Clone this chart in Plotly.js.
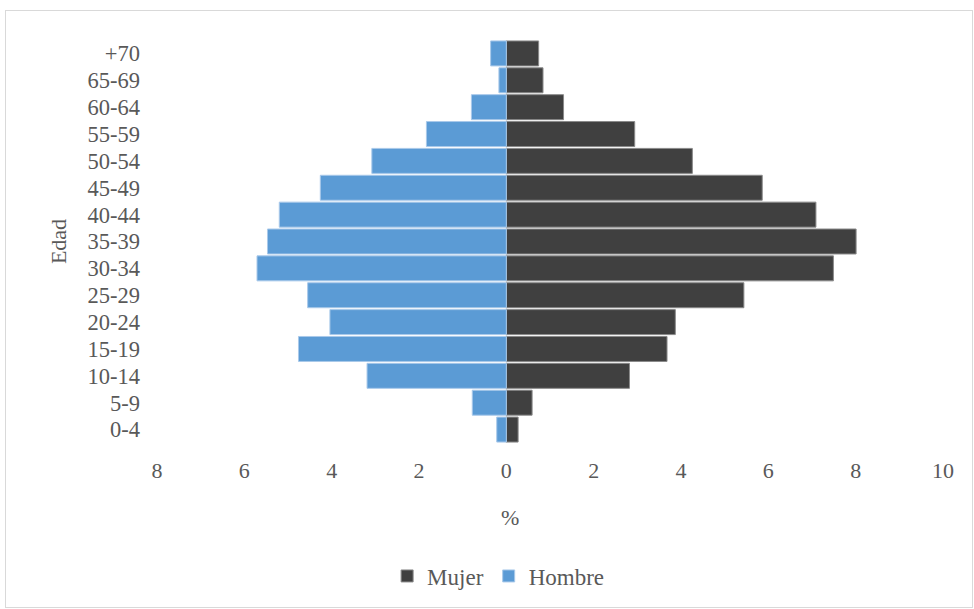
<!DOCTYPE html>
<html>
<head>
<meta charset="utf-8">
<script src="https://cdn.plot.ly/plotly-3.0.1.min.js"></script>
<style>
html,body{margin:0;padding:0;background:#fff;}
#frame{position:absolute;left:5px;top:10px;width:966px;height:596px;border:1px solid #d9d9d9;pointer-events:none;}
#chart{position:absolute;left:0;top:0;width:974px;height:609px;}
</style>
</head>
<body>
<div id="chart"></div>
<div id="frame"></div>
<script>
const ageGroups = ["0-4","5-9","10-14","15-19","20-24","25-29","30-34","35-39","40-44","45-49","50-54","55-59","60-64","65-69","+70"];
const mujer  = [0.27,0.59,2.82,3.68,3.87,5.44,7.49,8.01,7.09,5.86,4.26,2.94,1.31,0.84,0.74];
const hombre = [0.22,0.78,3.19,4.76,4.04,4.55,5.71,5.47,5.20,4.26,3.08,1.83,0.80,0.17,0.36];
const xTickVals = [-8,-6,-4,-2,0,2,4,6,8,10];
const xTickText = ["8","6","4","2","0","2","4","6","8","10"];

const fontFam = "'Liberation Serif','Times New Roman',serif";
const txtColor = "#595959";

const traces = [
  {
    type: "bar", orientation: "h", name: "Mujer",
    y: ageGroups, x: mujer,
    marker: {color: "#404040", line: {color: "#8a8a8a", width: 1}},
    hoverinfo: "y+x+name"
  },
  {
    type: "bar", orientation: "h", name: "Hombre",
    y: ageGroups, x: hombre.map(v => -v),
    text: hombre.map(String), hoverinfo: "y+text+name", textposition: "none",
    marker: {color: "#5B9BD5", line: {color: "#a9c9ea", width: 1}}
  }
];

const layout = {
  width: 974, height: 609,
  paper_bgcolor: "#fff", plot_bgcolor: "#fff",
  margin: {l: 157, r: 31, t: 40, b: 164, pad: 0},
  barmode: "relative",
  bargap: 0.07,
  font: {family: fontFam, size: 22, color: txtColor},
  showlegend: true,
  legend: {
    orientation: "h", x: 0.434, xanchor: "center", y: -0.33, yanchor: "middle",
    traceorder: "normal", font: {family: fontFam, size: 23, color: txtColor},
    itemwidth: 30
  },
  xaxis: {
    range: [-8, 10], tickmode: "array", tickvals: xTickVals, ticktext: xTickText,
    showgrid: false, zeroline: false, showline: false, ticks: "",
    ticklabelstandoff: 12,
    fixedrange: true
  },
  yaxis: {
    type: "category", categoryorder: "array", categoryarray: ageGroups,
    tickmode: "array", tickvals: ageGroups, ticktext: ageGroups,
    showgrid: false, zeroline: false, showline: false, ticks: "",
    ticklabelstandoff: 16,
    tickfont: {family: fontFam, size: 22.5, color: txtColor},
    title: {text: "Edad", standoff: 14, font: {family: fontFam, size: 22, color: txtColor}},
    fixedrange: true
  },
  annotations: [{
    text: "%", xref: "paper", yref: "paper", x: 0.449, y: -0.185,
    xanchor: "center", yanchor: "middle", showarrow: false,
    font: {family: fontFam, size: 22, color: txtColor}
  }],
  shapes: [{
    type: "line", xref: "x", yref: "paper", x0: 0, x1: 0, y0: 0, y1: 1,
    line: {color: "#d9d9d9", width: 1}, layer: "below"
  }]
};

Plotly.newPlot("chart", traces, layout, {displayModeBar: false, staticPlot: true});
</script>
</body>
</html>
